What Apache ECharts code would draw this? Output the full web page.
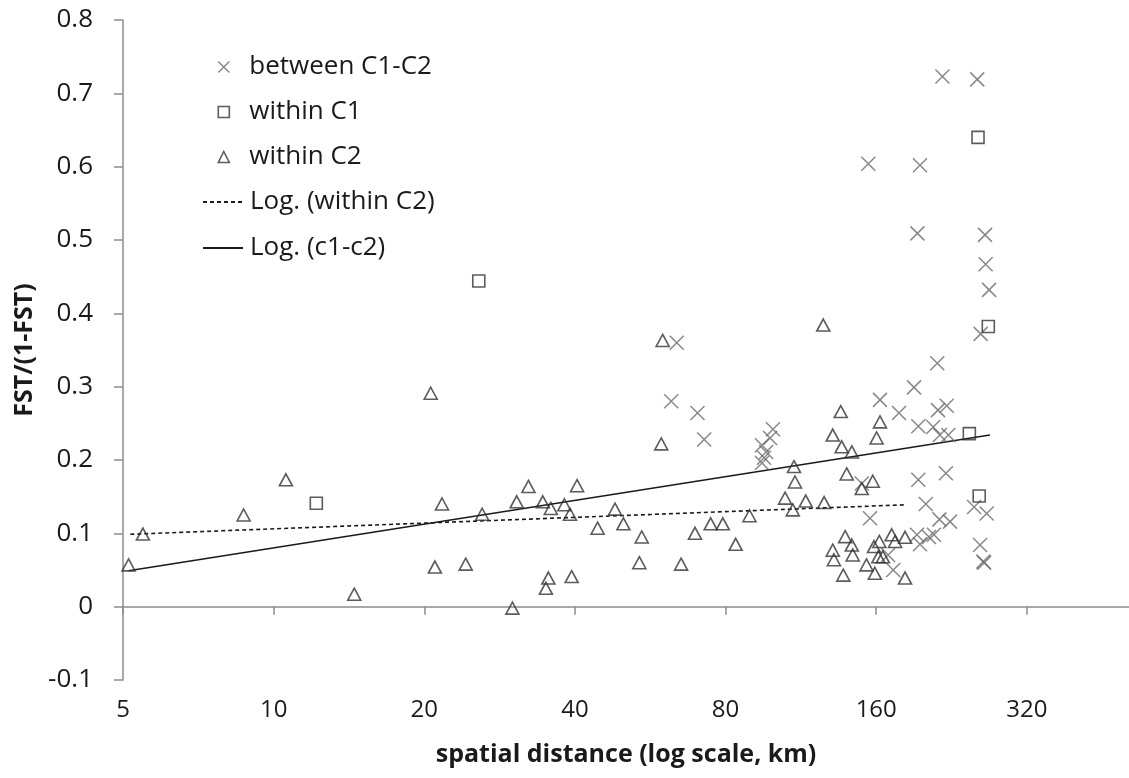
<!DOCTYPE html>
<html>
<head>
<meta charset="utf-8">
<script src="https://cdn.jsdelivr.net/npm/echarts@6/dist/echarts.min.js"></script>
<style>
html,body{margin:0;padding:0;background:#ffffff;}
#chart{width:1129px;height:778px;}
</style>
</head>
<body>
<div id="chart"></div>
<script>
// ---------- data (distance in km, value FST/(1-FST)) ----------
const xTickLabels = [5, 10, 20, 40, 80, 160, 320];
const xAxisMin = 5;
const xAxisMax = 512;
const yAxisMin = -0.1;
const yAxisMax = 0.8;
const yAxisStep = 0.1;

const betweenC1C2 = [
  [63.9, 0.360], [62.3, 0.280], [70.3, 0.264], [72.5, 0.228],
  [99.5, 0.242], [98.2, 0.230], [94.6, 0.220], [96.4, 0.211], [95.5, 0.203], [94.6, 0.196],
  [154.3, 0.604], [195.7, 0.602], [217, 0.723], [254.7, 0.719],
  [193.4, 0.509], [264, 0.507], [264.7, 0.467], [269, 0.432], [258.7, 0.372],
  [162.8, 0.282], [177.7, 0.264], [190.4, 0.299], [211.9, 0.332],
  [212.6, 0.268], [221.3, 0.274], [194.2, 0.246], [208, 0.245], [214.5, 0.234], [223, 0.234],
  [194.2, 0.173], [220.5, 0.182], [149.7, 0.168],
  [201, 0.140], [251, 0.136], [266, 0.127], [155.5, 0.1205], [214, 0.119], [224.7, 0.116],
  [193, 0.098], [195.7, 0.085], [204, 0.095], [208.7, 0.098],
  [169, 0.0705], [173, 0.050], [258, 0.084], [262, 0.0614], [263, 0.060]
];

const withinC1 = [
  [12.17, 0.141], [25.7, 0.444], [255.6, 0.640], [268, 0.382], [245.6, 0.236], [257, 0.151]
];

const withinC2 = [
  [5.13, 0.057], [5.48, 0.099], [8.71, 0.125], [10.58, 0.173], [14.49, 0.017],
  [20.6, 0.291], [21.0, 0.054], [21.7, 0.140], [24.2, 0.058], [26.1, 0.126],
  [30.0, -0.002], [30.6, 0.143], [32.3, 0.164], [34.5, 0.143], [35.8, 0.134],
  [35.4, 0.039], [35.0, 0.025], [38.1, 0.139], [39.1, 0.126], [40.4, 0.165],
  [39.4, 0.041], [44.4, 0.107], [48.1, 0.133], [50.0, 0.113], [54.4, 0.095],
  [53.8, 0.060], [59.9, 0.363], [59.5, 0.222], [65.2, 0.058], [69.5, 0.100],
  [74.7, 0.113], [79.0, 0.113], [83.8, 0.085], [89.3, 0.124],
  [109.6, 0.191], [110.1, 0.170], [105.2, 0.148], [109.0, 0.132], [115.7, 0.144],
  [125.9, 0.142], [125.4, 0.384], [131.0, 0.234], [135.9, 0.266], [136.5, 0.218],
  [143, 0.211], [162.8, 0.252], [160.3, 0.230], [139.7, 0.181], [157.5, 0.171],
  [149.7, 0.161], [138.7, 0.0955], [143, 0.084], [131, 0.077], [131.7, 0.064],
  [143.6, 0.0705], [137.5, 0.043], [158.4, 0.082], [162.3, 0.089], [161.6, 0.068],
  [165, 0.068], [153, 0.057], [159, 0.0455], [171.8, 0.098], [174.5, 0.089],
  [182.7, 0.0946], [182.7, 0.039]
];

// logarithmic trend lines (straight on a log x axis): end points
const trendWithinC2 = [[5.17, 0.0987], [184, 0.139]];
const trendC1C2 = [[5.13, 0.049], [270, 0.234]];

const seriesNames = ['between C1-C2', 'within C1', 'within C2', 'Log. (within C2)', 'Log. (c1-c2)'];

// ---------- chart ----------
const FONT = 'Open Sans';
const crossPath = 'path://M0,0L10,10M10,0L0,10';
const toLog = pts => pts.map(p => [Math.log2(p[0]), p[1]]);
const tickVals = xTickLabels.map(v => Math.log2(v));
const axisGray = '#8c8c8c';

const crossStyle = { color: 'rgba(0,0,0,0)', borderColor: '#6a6a6a', borderWidth: 1.5 };
const squareStyle = { color: 'rgba(0,0,0,0)', borderColor: '#333333', borderWidth: 1.6 };
const triStyle = { color: 'rgba(0,0,0,0)', borderColor: '#333333', borderWidth: 1.6 };
const hiddenDot = { color: 'rgba(0,0,0,0)', borderColor: 'rgba(0,0,0,0)', borderWidth: 0 };

const chart = echarts.init(document.getElementById('chart'), null, { renderer: 'canvas' });
chart.setOption({
  animation: false,
  backgroundColor: '#ffffff',
  grid: { left: 123, right: 0, top: 20, bottom: 98, containLabel: false },
  legend: [
    {
      orient: 'vertical', left: 217.5, top: 52, padding: 0,
      itemWidth: 11, itemHeight: 11, itemGap: 15,
      selectedMode: false,
      textStyle: { fontFamily: FONT, fontSize: 26, lineHeight: 30, color: '#1a1a1a', padding: [0, 0, 0, 15] },
      data: [
        { name: seriesNames[0], icon: crossPath, itemStyle: crossStyle },
        { name: seriesNames[1], icon: 'rect', itemStyle: squareStyle },
        { name: seriesNames[2], icon: 'triangle', itemStyle: triStyle }
      ]
    },
    {
      orient: 'vertical', left: 202, top: 187, padding: 0,
      itemWidth: 40, itemHeight: 11, itemGap: 16,
      selectedMode: false,
      textStyle: { fontFamily: FONT, fontSize: 26, lineHeight: 30, color: '#1a1a1a', padding: [0, 0, 0, 2] },
      data: [
        { name: seriesNames[3], itemStyle: hiddenDot },
        { name: seriesNames[4], itemStyle: hiddenDot }
      ]
    }
  ],
  xAxis: [
    {
      type: 'value', min: Math.log2(xAxisMin), max: Math.log2(xAxisMax),
      position: 'bottom',
      axisLine: { show: false, onZero: false },
      axisTick: { show: false },
      splitLine: { show: false },
      axisLabel: {
        customValues: tickVals,
        formatter: v => String(Math.round(Math.pow(2, v))),
        fontFamily: FONT, fontSize: 24, color: '#1a1a1a', margin: 18
      },
      name: 'spatial distance (log scale, km)',
      nameLocation: 'middle', nameGap: 62,
      nameTextStyle: { fontFamily: FONT, fontSize: 25, fontWeight: 'bold', color: '#1a1a1a' }
    },
    {
      type: 'value', min: Math.log2(xAxisMin), max: Math.log2(xAxisMax),
      position: 'bottom',
      axisLine: { show: true, onZero: true, lineStyle: { color: axisGray, width: 1.5 } },
      axisTick: { show: true, customValues: tickVals, length: 8, lineStyle: { color: axisGray, width: 1.5 } },
      axisLabel: { show: false },
      splitLine: { show: false }
    }
  ],
  yAxis: {
    type: 'value', min: yAxisMin, max: yAxisMax, interval: yAxisStep,
    axisLine: { show: true, onZero: false, lineStyle: { color: axisGray, width: 1.5 } },
    axisTick: { show: true, length: 9, lineStyle: { color: axisGray, width: 1.5 } },
    splitLine: { show: false },
    axisLabel: {
      formatter: v => String(Math.round(v * 10) / 10),
      fontFamily: FONT, fontSize: 26, color: '#1a1a1a', margin: 30
    },
    name: 'FST/(1-FST)',
    nameLocation: 'middle', nameGap: 80, nameRotate: 90,
    nameTextStyle: { fontFamily: FONT, fontSize: 25, fontWeight: 'bold', color: '#1a1a1a' }
  },
  series: [
    {
      name: seriesNames[3], type: 'line', xAxisIndex: 0, data: toLog(trendWithinC2),
      symbol: 'none', silent: true, z: 1,
      lineStyle: { color: '#1a1a1a', width: 1.6, type: [4, 3] },
      itemStyle: { color: '#1a1a1a' }
    },
    {
      name: seriesNames[4], type: 'line', xAxisIndex: 0, data: toLog(trendC1C2),
      symbol: 'none', silent: true, z: 1,
      lineStyle: { color: '#1a1a1a', width: 1.6, type: 'solid' },
      itemStyle: { color: '#1a1a1a' }
    },
    {
      name: seriesNames[0], type: 'scatter', xAxisIndex: 0, data: toLog(betweenC1C2),
      symbol: crossPath, symbolSize: 14, itemStyle: crossStyle, z: 3
    },
    {
      name: seriesNames[1], type: 'scatter', xAxisIndex: 0, data: toLog(withinC1),
      symbol: 'rect', symbolSize: 12, itemStyle: squareStyle, z: 4
    },
    {
      name: seriesNames[2], type: 'scatter', xAxisIndex: 0, data: toLog(withinC2),
      symbol: 'triangle', symbolSize: [13, 12], itemStyle: triStyle, z: 4
    }
  ]
});
</script>
</body>
</html>
